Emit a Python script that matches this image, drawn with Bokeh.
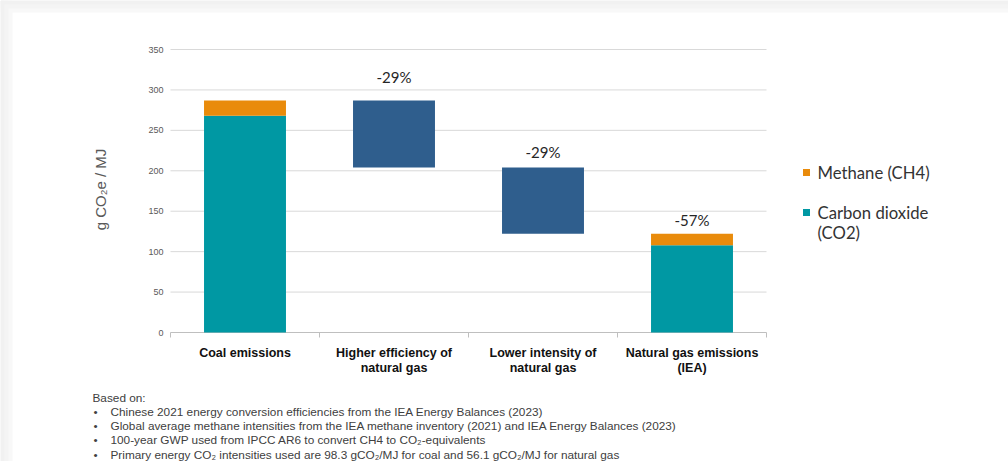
import math
from bokeh.plotting import figure
from bokeh.models import ColumnDataSource, Range1d
from bokeh.embed import file_html
from bokeh.resources import INLINE
from bokeh.core.properties import value

# --- data -----------------------------------------------------------------
categories = ["Coal emissions", "Higher efficiency of\nnatural gas",
              "Lower intensity of\nnatural gas", "Natural gas emissions\n(IEA)"]
co2_stack = [268, 108]          # coal, natural gas (g CO2e / MJ)
ch4_stack = [19, 14]            # coal, natural gas methane part
efficiency_step = (287, 204)    # from -> to
intensity_step = (204, 122)     # from -> to
change_labels = ["-29%", "-29%", "-57%"]
y_ticks = [0, 50, 100, 150, 200, 250, 300, 350]
legend_labels = ["Methane (CH4)", "Carbon dioxide\n(CO2)"]
notes = [
    "Chinese 2021 energy conversion efficiencies from the IEA Energy Balances (2023)",
    "Global average methane intensities from the IEA methane inventory (2021) and IEA Energy Balances (2023)",
    "100-year GWP used from IPCC AR6 to convert CH4 to CO\u2082-equivalents",
    "Primary energy CO\u2082 intensities used are 98.3 gCO\u2082/MJ for coal and 56.1 gCO\u2082/MJ for natural gas",
]

TEAL = "#0098A3"
ORANGE = "#E98B0B"
BLUE = "#2F5E8D"
GRID = "#d9d9d9"
AXIS = "#bfbfbf"

# Canvas geometry: the plotting area sits inside a full-canvas frame so that
# the axis labels, legend and notes can be drawn as ordinary glyphs.
W, H = 1008, 461
LEFT, RIGHT, TOP, BOTTOM = 170, 766, 49, 332     # plot area in canvas pixels
YMAX = 350
NCAT = len(categories)
ky = YMAX / (BOTTOM - TOP)
kx = NCAT / (RIGHT - LEFT)


def py(pix):
    """canvas pixel row -> data y"""
    return (BOTTOM - pix) * ky


def px(pix):
    """canvas pixel column -> data x"""
    return (pix - LEFT) * kx


p = figure(width=W, height=H, output_backend="svg", toolbar_location=None,
           x_range=Range1d(px(0), px(W)), y_range=Range1d(py(H), py(0)),
           x_axis_type=None, y_axis_type=None, min_border=0)
p.title.visible = False
p.outline_line_color = None
p.grid.visible = False
p.background_fill_color = "white"
p.border_fill_color = "white"

# soft shadow along the top and left edges of the card
for depth, shade in [(12, "#f8f8f8"), (8, "#f4f4f4"), (4, "#f1f1f1")]:
    p.quad(left=px(0), right=px(W), top=py(0), bottom=py(depth),
           fill_color=shade, line_color=None)
    p.quad(left=px(0), right=px(depth), top=py(0), bottom=py(H),
           fill_color=shade, line_color=None)

# --- grid and axes --------------------------------------------------------
p.segment(x0=0, x1=NCAT, y0=y_ticks[1:], y1=y_ticks[1:],
          line_color=GRID, line_width=1)
p.segment(x0=0, x1=NCAT, y0=0, y1=0, line_color=AXIS, line_width=1)
cat_edges = list(range(NCAT + 1))
p.segment(x0=cat_edges, x1=cat_edges, y0=0, y1=-5 * ky,
          line_color=AXIS, line_width=1)

p.text(x=[-7 * kx] * len(y_ticks), y=y_ticks, text=[str(t) for t in y_ticks],
       text_align="right", text_baseline="middle",
       text_font=value("Liberation Sans"), text_font_size="9px",
       text_color="#595959")
p.text(x=[px(100)], y=[py(189)], text=["g CO\u2082e / MJ"], angle=math.pi / 2,
       text_align="center", text_baseline="middle",
       text_font=value("Liberation Sans"), text_font_size="15px",
       text_color="#595959")

# --- bars -----------------------------------------------------------------
BW = 0.55
src = ColumnDataSource(dict(
    x=[0.5, 3.5], co2=co2_stack, ch4=ch4_stack,
    total=[a + b for a, b in zip(co2_stack, ch4_stack)]))
p.vbar(x="x", width=BW, bottom=0, top="co2", source=src,
       fill_color=TEAL, line_color=None)
p.vbar(x="x", width=BW, bottom="co2", top="total", source=src,
       fill_color=ORANGE, line_color=None)

steps = [efficiency_step, intensity_step]
p.vbar(x=[1.5, 2.5], width=BW,
       top=[s[0] for s in steps], bottom=[s[1] for s in steps],
       fill_color=BLUE, line_color=None)

# change labels above the bars
label_x = [1.5, 2.5, 3.5]
label_base = [efficiency_step[0], intensity_step[0], src.data["total"][1]]
label_gap = [14, 7, 5]
p.text(x=label_x, y=[b + g * ky for b, g in zip(label_base, label_gap)],
       text=change_labels, text_align="center", text_baseline="bottom",
       text_font=value("Lato"), text_font_size="15px", text_color="#262626")

# category labels under the axis
cx, cy, ct = [], [], []
for i, cat in enumerate(categories):
    for j, line in enumerate(cat.split("\n")):
        cx.append(i + 0.5)
        cy.append(py(352 + 15.5 * j))
        ct.append(line)
p.text(x=cx, y=cy, text=ct, text_align="center", text_baseline="middle",
       text_font=value("Liberation Sans"), text_font_style="bold",
       text_font_size="12.5px", text_color="#111111")

# --- legend ---------------------------------------------------------------
legend_colors = [ORANGE, TEAL]
legend_rows = [172, 212]
p.rect(x=[px(806)] * 2, y=[py(r) for r in legend_rows], width=7, height=7,
       width_units="screen", height_units="screen",
       fill_color=legend_colors, line_color=None)
lx, ly, lt = [], [], []
for row, lab in zip(legend_rows, legend_labels):
    for j, line in enumerate(lab.split("\n")):
        lx.append(px(817))
        ly.append(py(row + 20 * j))
        lt.append(line)
p.text(x=lx, y=ly, text=lt, text_align="left", text_baseline="middle",
       text_font=value("Lato"), text_font_size="16.7px", text_color="#333333")

# --- notes ----------------------------------------------------------------
note_rows = [411 + 14.4 * k for k in range(len(notes))]
note_style = dict(text_font=value("Liberation Sans"), text_font_size="11.8px",
                  text_color="#404040", text_baseline="middle",
                  text_align="left")
p.text(x=[px(92)], y=[py(397)], text=["Based on:"], **note_style)
p.text(x=[px(93)] * len(notes), y=[py(r) for r in note_rows],
       text=["\u2022"] * len(notes), **note_style)
p.text(x=[px(110)] * len(notes), y=[py(r) for r in note_rows],
       text=notes, **note_style)

open("out.html", "w").write(file_html(p, INLINE))
